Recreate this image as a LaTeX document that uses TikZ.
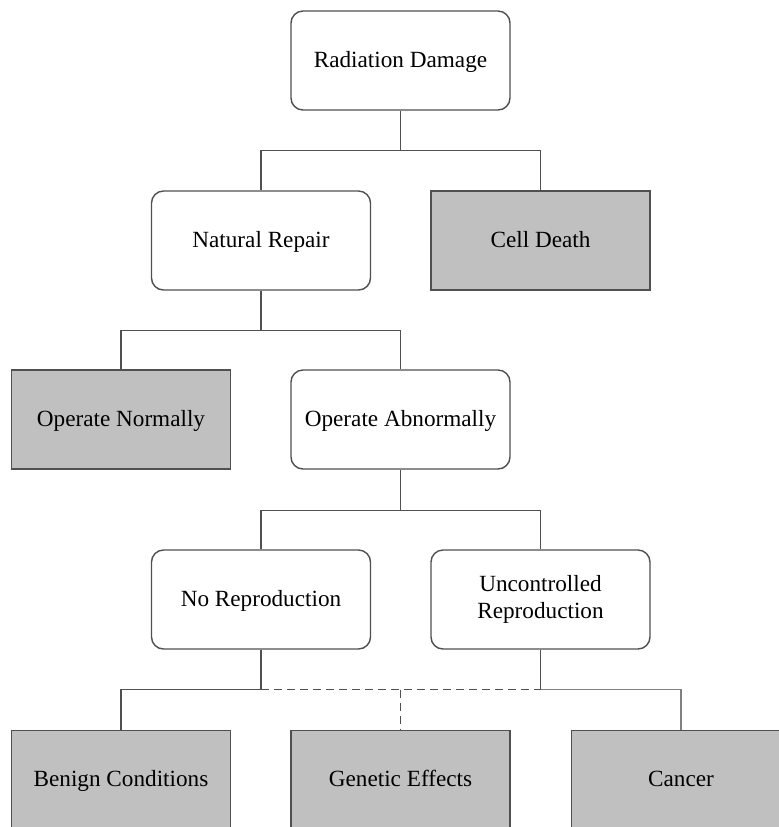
\documentclass[tikz,border=0pt]{standalone}
\usepackage{fontspec}
\setmainfont{Liberation Serif}
\usepackage{tikz}
\usetikzlibrary{positioning}
\definecolor{boxgray}{HTML}{C0C0C0}
\definecolor{linegray}{HTML}{505050}
\tikzset{
    event/.style={rectangle, draw=linegray, line width=0.7pt, rounded corners=6pt, fill=white, align=center, minimum width=109.5pt, minimum height=49.5pt, text height=0.86em, text depth=0.2em, font=\fontsize{11.6}{13.5}\selectfont},
    outcome/.style={event, rounded corners=0pt, fill=boxgray},
    link/.style={draw=linegray, line width=0.55pt},
    maybe/.style={link, dash pattern=on 4pt off 2.5pt}
}

\begin{document}
\begin{tikzpicture}[x=0.5pt, y=-0.5pt]
        \clip (0,0) rectangle (779,827);
        \fill[white] (0,0) rectangle (779,827);

        \node (rad) [event] at (400.5, 60.5) {Radiation Damage};

        \node (natrep) [event] at (261, 240.5) {Natural Repair};
        \node (death) [outcome] at (540.5, 240.5) {Cell Death};

        \node (opnorm) [outcome] at (121, 419.5) {Operate Normally};
        \node (opabn) [event] at (400.5, 419.5) {Operate Abnormally};

        \node (norep) [event] at (261, 599.5) {No Reproduction};
        \node (unrep) [event, text height={}, text depth={}] at (540.5, 599.5) {Uncontrolled\\Reproduction};

        \node (benign) [outcome] at (121, 780) {Benign Conditions};
        \node (genetic) [outcome] at (400.5, 780) {Genetic Effects};
        \node (cancer) [outcome] at (681, 780) {Cancer};

        % Branches
        \draw[link] (rad.south) -- ++(0,40) coordinate (j1);
        \draw[link] (natrep.north) |- (j1) -| (death.north);

        \draw[link] (natrep.south) -- ++(0,40) coordinate (j2);
        \draw[link] (opnorm.north) |- (j2) -| (opabn.north);

        \draw[link] (opabn.south) -- ++(0,41) coordinate (j3);
        \draw[link] (norep.north) |- (j3) -| (unrep.north);

        % Consequences
        \draw[link] (norep.south) -- ++(0,40) coordinate (j4);
        \draw[link] (unrep.south) -- ++(0,40) coordinate (j5);
        \draw[link] (j4) -| (benign.north);
        \draw[maybe] (j4) -- (j5);
        \draw[maybe] (genetic.north |- j4) -- (genetic.north);
        \draw[link, draw=gray] (j5) -| (cancer.north);

    \end{tikzpicture}
\end{document}
